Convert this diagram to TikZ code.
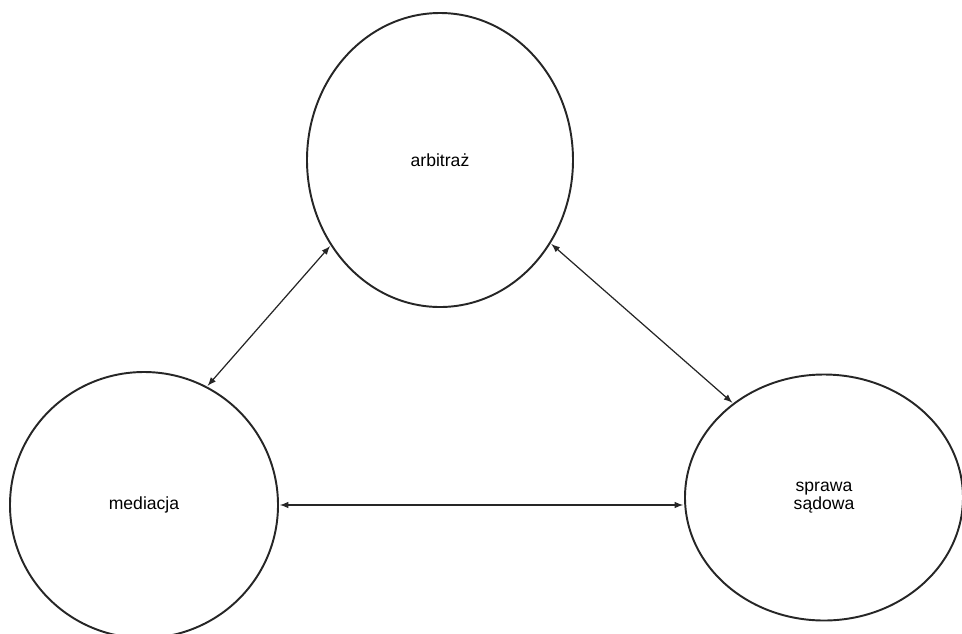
\documentclass[tikz,border=0pt]{standalone}
\usepackage{fontspec}
\setmainfont{Liberation Sans}
\usepackage{tikz}
\usetikzlibrary{shapes}
\usetikzlibrary{arrows,positioning,calc}
\tikzstyle{Estate}=[shape=ellipse,draw=black!85,line width=1.1pt,inner sep=0pt,font=\fontsize{10}{10}\selectfont,align=center]
\tikzstyle{linkedge}=[<->,>=latex,line width=0.7pt,draw=black!85,shorten <=0.5pt,shorten >=0.5pt]

\begin{document}
\begin{tikzpicture}

\useasboundingbox (0,0) rectangle (19.24,-12.66);

\node[Estate,minimum width=5.32cm,minimum height=5.88cm] (ARB) at (8.8,-3.2){arbitraż};

\node[Estate,minimum width=5.36cm,minimum height=5.32cm] (MED) at (2.88,-10.1){mediacja};

\node[Estate,minimum width=5.56cm,minimum height=4.92cm] (SAD) at (16.48,-9.95){sprawa\\sądowa};

 \path 

(ARB.218) edge [linkedge] (MED.62)
(ARB.323) edge [linkedge] (SAD.134)
(MED.east) edge [linkedge] (SAD.west |- MED.east);

\end{tikzpicture}
\end{document}
